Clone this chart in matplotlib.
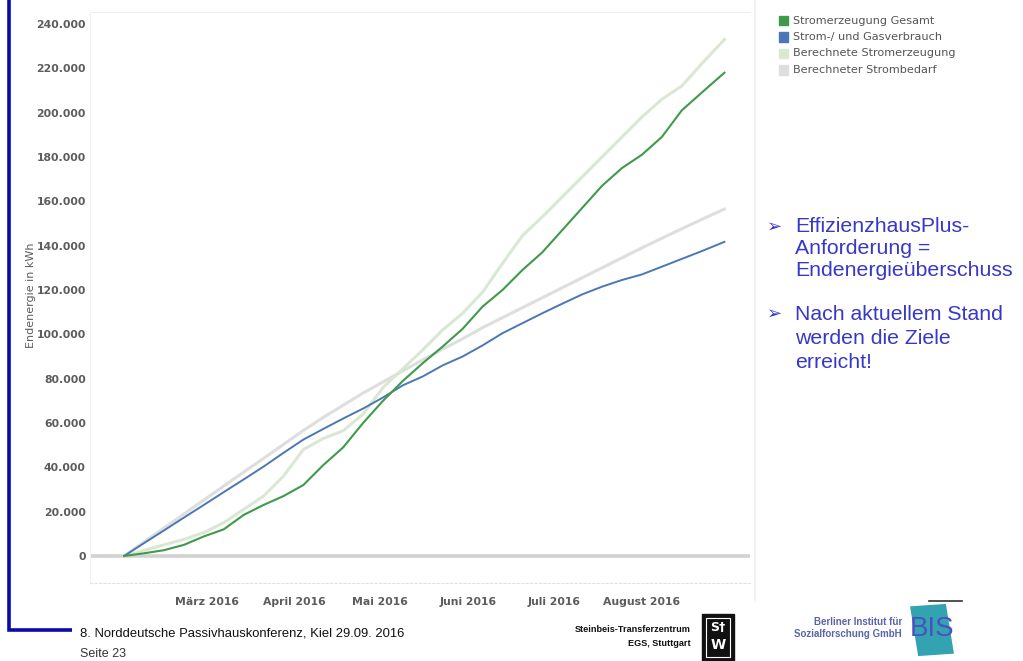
import numpy as np
import matplotlib
matplotlib.use("Agg")
import matplotlib.pyplot as plt
from matplotlib.patches import Rectangle
from matplotlib.lines import Line2D
import matplotlib.transforms as mtransforms

# Weekly readings, cumulative final energy in kWh
dates = ["2016-02-01", "2016-02-08", "2016-02-15", "2016-02-22", "2016-02-29",
         "2016-03-07", "2016-03-14", "2016-03-21", "2016-03-28", "2016-04-04",
         "2016-04-11", "2016-04-18", "2016-04-25", "2016-05-02", "2016-05-09",
         "2016-05-16", "2016-05-23", "2016-05-30", "2016-06-06", "2016-06-13",
         "2016-06-20", "2016-06-27", "2016-07-04", "2016-07-11", "2016-07-18",
         "2016-07-25", "2016-08-01", "2016-08-08", "2016-08-15", "2016-08-22",
         "2016-08-30"]

stromerzeugung_gesamt = [0, 1200, 2600, 5000, 8800, 12000, 18500, 23000, 27000, 32000,
                         41000, 49000, 60000, 70000, 79000, 87000, 94500, 102500, 112500, 120000,
                         129000, 137000, 147000, 157000, 167000, 175000, 181000, 189000, 201000, 209000,
                         218000]
strom_gasverbrauch = [0, 5800, 11500, 17300, 23000, 28800, 34500, 40300, 46500, 52500,
                      57300, 62000, 66500, 71500, 77000, 81000, 86000, 90000, 95000, 100500,
                      105000, 109500, 113800, 118000, 121500, 124500, 127000, 130500, 134000, 137500,
                      141700]
berechnete_stromerzeugung = [0, 2500, 5000, 7500, 10500, 15000, 21000, 27000, 36000, 48000,
                             53000, 56500, 64000, 76000, 84500, 93000, 102000, 109500, 119000, 132000,
                             144500, 153000, 162000, 171000, 180000, 189000, 198000, 206000, 212000, 222000,
                             233000]
berechneter_strombedarf = [0, 6300, 12600, 18900, 25200, 31500, 37800, 44000, 50300, 56600,
                           62500, 68000, 73500, 78500, 83500, 88500, 93300, 98000, 103000, 107500,
                           112000, 116500, 121000, 125500, 130000, 134500, 139000, 143300, 147600, 151800,
                           156500]

series_names = ["Stromerzeugung Gesamt", "Strom-/ und Gasverbrauch",
                "Berechnete Stromerzeugung", "Berechneter Strombedarf"]
series_colors = ["#3f9a4a", "#4a78b4", "#dae8d3", "#dedede"]

month_ticks = ["2016-03-01", "2016-04-01", "2016-05-01", "2016-06-01", "2016-07-01", "2016-08-01"]
month_labels = ["März 2016", "April 2016", "Mai 2016", "Juni 2016", "Juli 2016", "August 2016"]
y_ticks = list(range(0, 240001, 20000))

x = np.array(dates, dtype="datetime64[D]")

fig = plt.figure(figsize=(10.23, 6.61), dpi=100)
fig.patch.set_facecolor("white")
W, H = 1023, 661


def fx(px):
    return px / W


def fy(py):
    return 1 - py / H


ax = fig.add_axes([fx(90), fy(583), fx(660), 571 / H])
ax.set_facecolor("white")

# zero baseline
ax.axhline(0, color="#d2d2d2", lw=2.6, zorder=1)

# pale calculated series first, measured series on top
ax.plot(x, berechneter_strombedarf, color=series_colors[3], lw=2.2, zorder=2)
ax.plot(x, berechnete_stromerzeugung, color=series_colors[2], lw=2.2, zorder=2)
ax.plot(x, strom_gasverbrauch, color=series_colors[1], lw=1.4, zorder=3)
ax.plot(x, stromerzeugung_gesamt, color=series_colors[0], lw=1.5, zorder=3)

ax.set_xlim(np.datetime64("2016-01-20"), np.datetime64("2016-09-08"))
ax.set_ylim(-12200, 245400)

ax.set_yticks(y_ticks)
ax.set_yticklabels([f"{v:,}".replace(",", ".") for v in y_ticks])
ax.set_xticks(np.array(month_ticks, dtype="datetime64[D]"))
ax.set_xticklabels(month_labels)
ax.tick_params(axis="both", length=0, colors="#5c5c5c", labelsize=7.8)
ax.tick_params(axis="y", pad=3)
ax.tick_params(axis="x", pad=10)
for lab in ax.get_xticklabels() + ax.get_yticklabels():
    lab.set_fontweight("bold")
    lab.set_fontfamily("DejaVu Sans")

ax.spines["right"].set_visible(False)
ax.spines["top"].set_color("#eeeeee")
ax.spines["left"].set_color("#f0f0f0")
ax.spines["bottom"].set_color("#e2e2e2")
ax.spines["bottom"].set_linestyle((0, (2, 2)))

ax.set_ylabel("Endenergie in kWh", color="#5c5c5c", fontsize=8, family="DejaVu Sans")
ax.yaxis.set_label_coords((36 - 90) / 660, (583 - 295) / 571)

# legend
for i, (name, col) in enumerate(zip(series_names, series_colors)):
    yy = 20.5 + i * 16.5
    fig.patches.append(Rectangle((fx(779), fy(yy + 4.5)), fx(9), 9 / H,
                                 transform=fig.transFigure, color=col, figure=fig))
    fig.text(fx(793), fy(yy), name, fontsize=8.1, color="#555555",
             family="DejaVu Sans", va="center", ha="left")

# container edge
fig.add_artist(Line2D([fx(755), fx(755)], [fy(0), fy(600)], color="#eeeeee", lw=1.2))

# slide bracket
blue = "#0a0aa8"
fig.add_artist(Line2D([fx(9), fx(9), fx(72)], [fy(0), fy(630), fy(630)],
                      color=blue, lw=2.6, solid_capstyle="butt", solid_joinstyle="miter"))

# bullet text
txt_col = "#3838c8"
bullets = [(227, 22, ["EffizienzhausPlus-", "Anforderung =", "Endenergieüberschuss"]),
           (314, 24, ["Nach aktuellem Stand", "werden die Ziele", "erreicht!"])]
for y0, step, lines in bullets:
    fig.text(fx(767), fy(y0), "➢", fontsize=13, color=txt_col,
             family="DejaVu Sans", va="center", ha="left")
    for j, line in enumerate(lines):
        fig.text(fx(795), fy(y0 + j * step), line, fontsize=15.3, color=txt_col,
                 family="Liberation Sans", va="center", ha="left")

# footer
fig.text(fx(80), fy(634), "8. Norddeutsche Passivhauskonferenz, Kiel 29.09. 2016",
         fontsize=9.4, color="#111111", family="Liberation Sans", va="center", ha="left")
fig.text(fx(80), fy(660), "Seite 23", fontsize=9.0, color="#333333",
         family="Liberation Sans", va="bottom", ha="left")
fig.text(fx(691), fy(629), "Steinbeis-Transferzentrum", fontsize=6.6, weight="bold",
         color="#111111", family="Liberation Sans", va="center", ha="right")
fig.text(fx(691), fy(643), "EGS, Stuttgart", fontsize=6.6, weight="bold",
         color="#111111", family="Liberation Sans", va="center", ha="right")

# STW logo
fig.patches.append(Rectangle((fx(702), fy(661)), fx(32), 47 / H,
                             transform=fig.transFigure, color="#111111", figure=fig))
fig.patches.append(Rectangle((fx(706), fy(657)), fx(24), 39 / H,
                             transform=fig.transFigure, facecolor="#111111",
                             edgecolor="white", lw=0.8, figure=fig))
fig.text(fx(718), fy(628), "S†", fontsize=9, weight="bold", color="white",
         family="DejaVu Sans", va="center", ha="center")
fig.text(fx(718), fy(645), "W", fontsize=10, weight="bold", color="white",
         family="DejaVu Sans", va="center", ha="center")

# BIS logo
fig.add_artist(Line2D([fx(929), fx(962)], [fy(601), fy(601)], color="#333333", lw=1.2))
fig.text(fx(902), fy(622), "Berliner Institut für", fontsize=7, weight="bold",
         color="#5a64a8", family="Liberation Sans", va="center", ha="right")
fig.text(fx(902), fy(634), "Sozialforschung GmbH", fontsize=7, weight="bold",
         color="#5a64a8", family="Liberation Sans", va="center", ha="right")
sq = Rectangle((fx(914), fy(655)), fx(36), 50 / H, facecolor="#33a3b2", figure=fig)
sq.set_transform(mtransforms.Affine2D().rotate_deg_around(fx(932), fy(630), 6) + fig.transFigure)
fig.patches.append(sq)
fig.text(fx(932), fy(629), "BIS", fontsize=20, color="#4a52c0",
         family="Liberation Sans", va="center", ha="center")

fig.savefig("out.png", dpi=100, facecolor="white")
